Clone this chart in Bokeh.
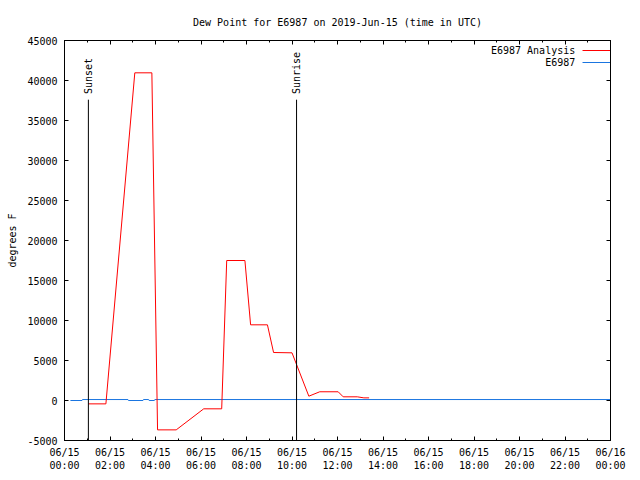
import math
from bokeh.plotting import figure
from bokeh.models import Range1d, FixedTicker, LinearAxis, Label
from bokeh.embed import file_html
from bokeh.resources import INLINE

# ---- data (hours UTC on 2019-06-15) ----
red_hours = [1.05, 1.82, 3.09, 3.84, 4.09, 4.91, 6.12, 6.91, 7.13, 7.93, 8.18,
             8.92, 9.19, 10.0, 10.74, 11.22, 12.03, 12.25, 12.87, 13.16, 13.39]
red_vals = [-420, -420, 40960, 40960, -3670, -3670, -1040, -1040, 17500, 17500, 9460,
            9460, 6000, 5960, 540, 1090, 1090, 460, 460, 330, 330]

blue_hours = [0.26, 0.77, 0.79, 2.79, 2.81, 3.45, 3.47, 3.70, 3.72, 3.95, 3.97, 24.0]
blue_vals = [0, 0, 120, 120, 0, 0, 120, 120, 0, 0, 120, 120]

sun_hours = [1.05, 10.2]
sun_names = ["Sunset", "Sunrise"]
sun_top = 37600

x_ticks = list(range(0, 25, 2))
x_tick_labels = ["06/15\n%02d:00" % h for h in range(0, 24, 2)] + ["06/16\n00:00"]
y_ticks = list(range(-5000, 45001, 5000))

series_names = ["E6987 Analysis", "E6987"]
series_colors = ["#ff0000", "#1a75e0"]

FONT = "DejaVu Sans Mono"
FS = "10px"

p = figure(width=640, height=480, output_backend="svg", toolbar_location=None,
           x_range=Range1d(0, 24), y_range=Range1d(-5000, 45000),
           min_border_left=64, min_border_right=30, min_border_top=40,
           min_border_bottom=40,
           title="Dew Point for E6987 on 2019-Jun-15 (time in UTC)")
p.title.text_font = FONT
p.title.text_font_size = FS
p.title.text_font_style = "normal"
p.title.align = "center"
p.title.text_color = "black"
p.title.standoff = 26
p.grid.visible = False
p.outline_line_color = "black"
p.background_fill_color = "white"
p.border_fill_color = "white"

xt = FixedTicker(ticks=x_ticks, minor_ticks=list(range(0, 25)))
yt = FixedTicker(ticks=y_ticks, minor_ticks=[])

def style_axis(ax, ticker, overrides):
    ax.ticker = ticker
    ax.major_label_overrides = overrides
    ax.major_tick_in = 4
    ax.major_tick_out = 0
    ax.minor_tick_in = 2
    ax.minor_tick_out = 0
    ax.axis_line_color = "black"
    ax.major_tick_line_color = "black"
    ax.minor_tick_line_color = "black"
    ax.major_label_text_font = FONT
    ax.major_label_text_font_size = FS
    ax.major_label_text_color = "black"
    ax.axis_label_text_font = FONT
    ax.axis_label_text_font_size = FS
    ax.axis_label_text_font_style = "normal"
    ax.axis_label_text_color = "black"

xa = p.xaxis[0]
style_axis(xa, xt, {t: lab for t, lab in zip(x_ticks, x_tick_labels)})
xa.major_label_standoff = 6
ya = p.yaxis[0]
style_axis(ya, yt, {t: str(t) for t in y_ticks})
ya.major_label_standoff = 7
ya.axis_label = "degrees F"
ya.axis_label_standoff = 6

top = LinearAxis()
style_axis(top, xt, {t: "" for t in x_ticks})
p.add_layout(top, "above")
right = LinearAxis()
style_axis(right, yt, {t: "" for t in y_ticks})
p.add_layout(right, "right")

# series
p.line(blue_hours, blue_vals, line_color=series_colors[1], line_width=1)
p.line(red_hours, red_vals, line_color=series_colors[0], line_width=1)

# sunset / sunrise markers
p.segment(x0=sun_hours, y0=[-5000] * 2, x1=sun_hours, y1=[sun_top] * 2,
          line_color="black", line_width=1)
for h, name in zip(sun_hours, sun_names):
    p.add_layout(Label(x=h, y=sun_top + 700, text=name, angle=math.pi / 2,
                       text_align="left", text_baseline="middle",
                       text_font=FONT, text_font_size=FS, text_color="black"))

# legend (text to the left of sample line, gnuplot style)
leg_y = [43750, 42250]
for name, col, yy in zip(series_names, series_colors, leg_y):
    p.add_layout(Label(x=22.45, y=yy, text=name, text_align="right",
                       text_baseline="middle", text_font=FONT,
                       text_font_size=FS, text_color="black"))
    p.segment(x0=[22.77], y0=[yy], x1=[24.0], y1=[yy], line_color=col, line_width=1)

open("out.html", "w").write(file_html(p, INLINE))
